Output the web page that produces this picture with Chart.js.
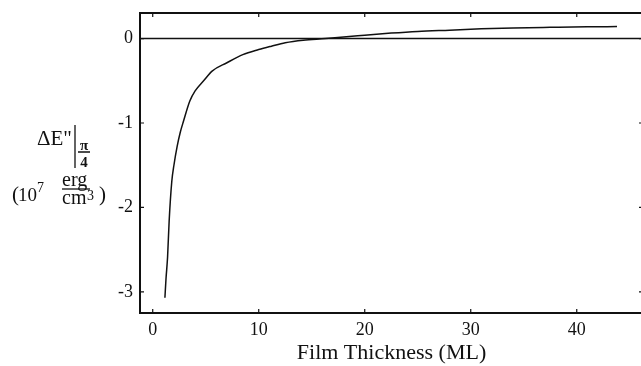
<!DOCTYPE html>
<html>
<head>
<meta charset="utf-8">
<style>
  html, body { margin: 0; padding: 0; background: #fff; overflow: hidden; }
  #wrap { width: 646px; height: 366px; }
</style>
<script src="https://cdn.jsdelivr.net/npm/chart.js@4/dist/chart.umd.min.js"></script>
</head>
<body>
<div id="wrap"><canvas id="myChart" width="646" height="366"></canvas></div>
<script>
// film thickness (ML) and anisotropy energy (10^7 erg/cm^3)
var thickness = [1.15, 1.25, 1.4, 1.55, 1.8, 2.0, 2.3, 2.6, 2.9, 3.5, 4.0, 4.8, 5.6, 7.0, 8.5, 10, 11.2, 12.5, 14.2, 16.3, 18, 20, 22.5, 25, 28, 31, 34, 37.5, 41, 43.8];
var energy = [-3.07, -2.85, -2.59, -2.16, -1.69, -1.50, -1.28, -1.11, -0.98, -0.74, -0.62, -0.50, -0.385, -0.286, -0.19, -0.13, -0.09, -0.05, -0.02, 0, 0.02, 0.04, 0.065, 0.085, 0.10, 0.115, 0.125, 0.133, 0.14, 0.142];
var xTicks = [0, 10, 20, 30, 40];
var yTicks = [-3, -2, -1, 0];

var serif = "'Liberation Serif', 'DejaVu Serif', serif";
var ink = "#111";

var points = thickness.map(function (t, i) { return { x: t, y: energy[i] }; });

// frame, inward ticks and the zero line
var framePlugin = {
  id: "frame",
  afterDatasetsDraw: function (chart) {
    var c = chart.ctx, a = chart.chartArea;
    var xs = chart.scales.x, ys = chart.scales.y;
    var tl = 4;
    c.save();
    c.strokeStyle = ink;
    // zero line
    c.lineWidth = 1.5;
    var y0 = ys.getPixelForValue(0);
    c.beginPath();
    c.moveTo(a.left, y0);
    c.lineTo(a.right, y0);
    c.stroke();
    // ticks
    c.lineWidth = 1.2;
    c.beginPath();
    xTicks.forEach(function (v) {
      var px = xs.getPixelForValue(v);
      c.moveTo(px, a.bottom); c.lineTo(px, a.bottom - tl);
      c.moveTo(px, a.top); c.lineTo(px, a.top + tl);
    });
    yTicks.forEach(function (v) {
      var py = ys.getPixelForValue(v);
      c.moveTo(a.left, py); c.lineTo(a.left + tl, py);
      c.moveTo(a.right, py); c.lineTo(a.right - tl, py);
    });
    c.stroke();
    // box
    c.lineWidth = 2;
    c.strokeRect(a.left, a.top, a.right - a.left, a.bottom - a.top);
    c.restore();
  }
};

// y axis label: ΔE"|π/4 (10^7 erg/cm^3)
var yTitlePlugin = {
  id: "yTitle",
  afterDraw: function (chart) {
    var c = chart.ctx;
    c.save();
    c.fillStyle = ink;
    c.strokeStyle = ink;
    c.textBaseline = "alphabetic";
    c.textAlign = "left";
    c.font = "21px " + serif;
    c.fillText("\u0394E\"", 37, 145);
    c.lineWidth = 1.3;
    c.beginPath();
    c.moveTo(75, 125); c.lineTo(75, 168);
    c.moveTo(78, 152); c.lineTo(90, 152);
    c.stroke();
    c.textAlign = "center";
    c.font = "bold 15px " + serif;
    c.fillText("\u03c0", 84, 150);
    c.fillText("4", 84, 167);
    c.textAlign = "left";
    c.font = "21px " + serif;
    c.fillText("(", 12, 201);
    c.font = "19px " + serif;
    c.fillText("10", 18, 201);
    c.font = "14px " + serif;
    c.fillText("7", 37, 192);
    c.font = "20px " + serif;
    c.fillText("erg", 62, 186);
    c.fillText("cm", 62, 204);
    c.font = "14px " + serif;
    c.fillText("3", 87, 200);
    c.lineWidth = 1.3;
    c.beginPath();
    c.moveTo(62, 189); c.lineTo(90, 189);
    c.stroke();
    c.font = "21px " + serif;
    c.fillText(")", 99, 201);
    c.restore();
  }
};

var ctx = document.getElementById("myChart");

var myChart = new Chart(ctx, {
  type: "line",
  data: {
    datasets: [
      {
        data: points,
        borderColor: ink,
        borderWidth: 1.5,
        pointRadius: 0,
        fill: false,
        cubicInterpolationMode: "monotone"
      }
    ]
  },
  options: {
    responsive: false,
    animation: false,
    devicePixelRatio: 1,
    layout: { padding: { top: 13, right: 3, left: 0, bottom: 0 } },
    plugins: {
      legend: { display: false },
      tooltip: { enabled: false }
    },
    scales: {
      x: {
        type: "linear",
        min: -1.2,
        max: 46.25,
        afterFit: function (s) { s.height = 53; s.paddingLeft = 0; s.paddingRight = 0; },
        afterBuildTicks: function (s) { s.ticks = xTicks.map(function (v) { return { value: v }; }); },
        grid: { display: false, drawTicks: false },
        border: { display: false },
        ticks: { color: ink, padding: 6, font: { family: serif, size: 18 } },
        title: {
          display: true,
          text: "Film Thickness (ML)",
          color: ink,
          padding: { top: 0, bottom: 0 },
          font: { family: serif, size: 22 }
        }
      },
      y: {
        type: "linear",
        min: -3.25,
        max: 0.303,
        afterFit: function (s) { s.width = 140; s.paddingTop = 0; s.paddingBottom = 0; },
        afterBuildTicks: function (s) { s.ticks = yTicks.map(function (v) { return { value: v }; }); },
        grid: { display: false, drawTicks: false },
        border: { display: false },
        ticks: { color: ink, padding: 7, font: { family: serif, size: 18 } }
      }
    }
  },
  plugins: [framePlugin, yTitlePlugin]
});
</script>
</body>
</html>
